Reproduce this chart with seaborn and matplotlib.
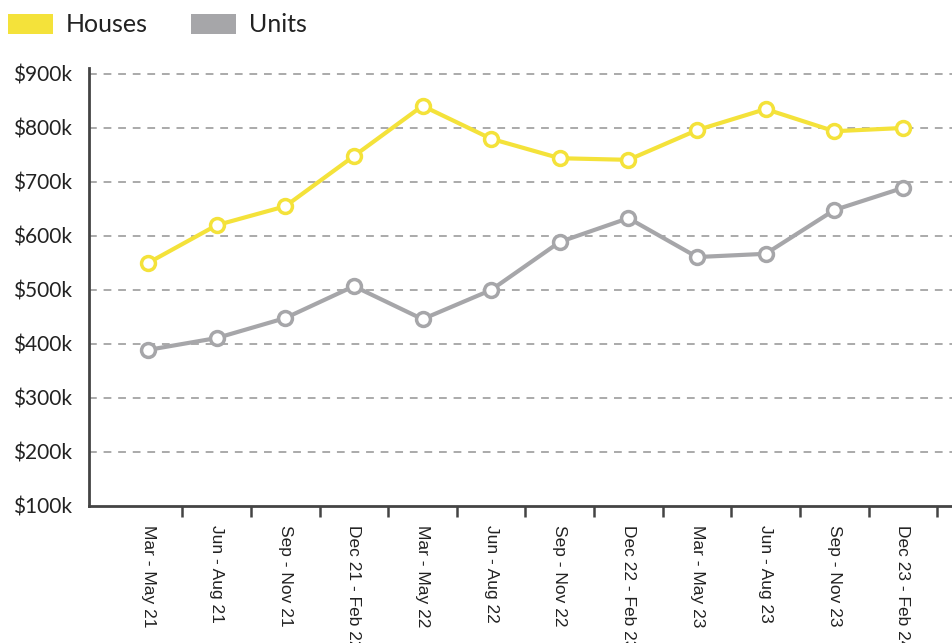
import matplotlib
matplotlib.use("Agg")
import matplotlib.pyplot as plt
import seaborn as sns
import pandas as pd
import numpy as np
from matplotlib.patches import Patch
from matplotlib.ticker import FixedLocator

periods = ["Mar - May 21", "Jun - Aug 21", "Sep - Nov 21", "Dec 21 - Feb 22",
           "Mar - May 22", "Jun - Aug 22", "Sep - Nov 22", "Dec 22 - Feb 23",
           "Mar - May 23", "Jun - Aug 23", "Sep - Nov 23", "Dec 23 - Feb 24"]
houses = [550, 620, 655, 748, 841, 780, 744, 741, 796, 835, 794, 800]
units = [389, 411, 448, 507, 446, 500, 589, 633, 561, 567, 648, 689]
yticks = [100, 200, 300, 400, 500, 600, 700, 800, 900]

YELLOW = "#F4E23A"
GRAY = "#A6A6A9"

sns.set_theme(style="white")
plt.rcParams['font.family'] = ['Lato', 'DejaVu Sans']

df = pd.DataFrame({
    "idx": list(range(len(periods))) * 2,
    "value": houses + units,
    "series": ["Houses"] * len(periods) + ["Units"] * len(periods),
})

fig = plt.figure(figsize=(9.53, 6.43), dpi=100)
ax = fig.add_axes([89 / 953, 1 - 506 / 643, 1 - 89 / 953, (506 - 67.5) / 643])

sns.lineplot(data=df, x="idx", y="value", hue="series",
             palette={"Houses": YELLOW, "Units": GRAY},
             linewidth=3, marker="o", markersize=10, markerfacecolor="white",
             markeredgewidth=2.5, legend=False, ax=ax, zorder=3)
for line, c in zip(ax.lines, [YELLOW, GRAY]):
    line.set_markeredgecolor(c)

ax.set_ylim(100, 912)
ax.set_xlim(-0.86, 11.73)
ax.set_yticks(yticks)
ax.set_yticklabels([f"${v}k" for v in yticks], fontsize=15, color="#222222")
for v in yticks[1:]:
    ax.axhline(v, color="#AAAAAA", lw=1.4, ls=(0, (4, 3.5)), zorder=1)

ax.set_xticks(range(len(periods)))
ax.set_xticklabels(periods, rotation=-90, fontsize=12.5, color="#222222",
                   family=["Liberation Sans", "DejaVu Sans"], va="top", ha="center")
ax.xaxis.set_minor_locator(FixedLocator(np.arange(0.5, len(periods), 1.0)))
ax.tick_params(axis="x", which="major", length=0, pad=14)
ax.tick_params(axis="x", which="minor", length=8, width=1.8, color="#444444", direction="out", bottom=True)
ax.tick_params(axis="y", length=0, pad=12)

ax.set_xlabel("")
ax.set_ylabel("")
for s in ["top", "right"]:
    ax.spines[s].set_visible(False)
for s in ["left", "bottom"]:
    ax.spines[s].set_color("#444444")
    ax.spines[s].set_linewidth(2)

handles = [Patch(facecolor=YELLOW, edgecolor="none", label="Houses"),
           Patch(facecolor=GRAY, edgecolor="none", label="Units")]
fig.legend(handles=handles, loc="center left", bbox_to_anchor=(8 / 953, 1 - 25 / 643), ncol=2,
           frameon=False, fontsize=18, handlelength=1.8, handleheight=0.85,
           columnspacing=1.72, handletextpad=0.52, borderaxespad=0, borderpad=0,
           labelcolor="#222222")

fig.savefig("out.png", dpi=100)
